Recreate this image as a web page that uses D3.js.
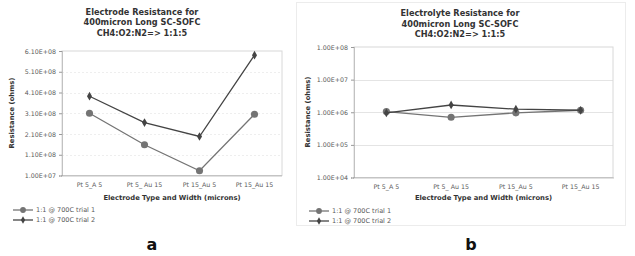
<!DOCTYPE html>
<html>
<head>
<meta charset="utf-8">
<script src="https://cdn.jsdelivr.net/npm/d3@7"></script>
<style>
  body { margin: 0; background: #fff; }
  svg { display: block; }
  text { font-family: "DejaVu Sans", Verdana, sans-serif; }
</style>
</head>
<body>
<svg id="chart" width="635" height="256"></svg>
<script>
var categories = ["Pt 5_A 5", "Pt 5_ Au 15", "Pt 15_Au 5", "Pt 15_Au 15"];
var seriesNames = ["1:1 @ 700C trial 1", "1:1 @ 700C trial 2"];

// panel a: electrode resistance (ohms)
var electrodeTrial1 = [3.1e8, 1.58e8, 3.3e7, 3.05e8];
var electrodeTrial2 = [3.92e8, 2.65e8, 1.98e8, 5.9e8];
var electrodeTicks = [1e7, 1.1e8, 2.1e8, 3.1e8, 4.1e8, 5.1e8, 6.1e8];
var electrodeTickLabels = ["1.00E+07", "1.10E+08", "2.10E+08", "3.10E+08", "4.10E+08", "5.10E+08", "6.10E+08"];

// panel b: electrolyte resistance (ohms)
var electrolyteTrial1 = [1.05e6, 7.0e5, 9.6e5, 1.15e6];
var electrolyteTrial2 = [9.5e5, 1.67e6, 1.24e6, 1.15e6];
var electrolyteTicks = [1e4, 1e5, 1e6, 1e7, 1e8];
var electrolyteTickLabels = ["1.00E+04", "1.00E+05", "1.00E+06", "1.00E+07", "1.00E+08"];

var svg = d3.select("#chart");

// faint frame around panel b
svg.append("rect")
    .attr("x", 296.5).attr("y", 2.5).attr("width", 329).attr("height", 223)
    .attr("fill", "none").attr("stroke", "#ececec");

function drawPanel(opt) {
    var g = svg.append("g");
    var x = d3.scaleBand().domain(categories).range([opt.left, opt.right]);
    var y = opt.y;

    // title
    opt.title.forEach(function(line, i) {
        g.append("text")
            .attr("x", opt.titleX).attr("y", opt.titleY + i * 10.5)
            .attr("text-anchor", "middle")
            .attr("font-size", 8.2).attr("font-weight", "bold").attr("fill", "#333")
            .text(line);
    });

    // grid
    g.selectAll(".grid").data(opt.ticks.slice(1, -1)).enter().append("line")
        .attr("x1", opt.left).attr("x2", opt.right)
        .attr("y1", function(d) { return Math.round(y(d)) + 0.5; })
        .attr("y2", function(d) { return Math.round(y(d)) + 0.5; })
        .attr("stroke", opt.gridColor).attr("stroke-width", 1)
        .attr("stroke-dasharray", opt.gridDash);

    // plot frame
    g.append("rect")
        .attr("x", opt.left).attr("y", y.range()[1])
        .attr("width", opt.right - opt.left).attr("height", y.range()[0] - y.range()[1])
        .attr("fill", "none").attr("stroke", "#d8d8d8");

    // axes
    var yAxis = d3.axisLeft(y).tickValues(opt.ticks)
        .tickFormat(function(d, i) { return opt.tickLabels[i]; })
        .tickSize(3).tickPadding(3);
    var ya = g.append("g").attr("transform", "translate(" + opt.left + ",0)").call(yAxis);
    ya.select(".domain").attr("stroke", "#999").attr("stroke-dasharray", "1,1");
    ya.selectAll(".tick line").attr("stroke", "#999");
    ya.selectAll("text").attr("font-size", 6.3).attr("fill", "#5a5a5a")
        .attr("font-family", "DejaVu Sans, sans-serif");

    var xAxis = d3.axisBottom(x).tickSize(0).tickPadding(7);
    var xa = g.append("g").attr("transform", "translate(0," + y.range()[0] + ")").call(xAxis);
    xa.select(".domain").attr("stroke", "#888").attr("stroke-dasharray", "1,1");
    xa.selectAll("text").attr("font-size", 6.3).attr("fill", "#5a5a5a")
        .attr("font-family", "DejaVu Sans, sans-serif");

    // axis titles
    g.append("text")
        .attr("x", (opt.left + opt.right) / 2).attr("y", opt.xTitleY)
        .attr("text-anchor", "middle").attr("font-size", 6.8).attr("font-weight", "bold").attr("fill", "#333")
        .text("Electrode Type and Width (microns)");
    g.append("text")
        .attr("transform", "translate(" + opt.yTitleX + "," + opt.yTitleCY + ") rotate(-90)")
        .attr("text-anchor", "middle").attr("font-size", 6.8).attr("font-weight", "bold").attr("fill", "#333")
        .text("Resistance (ohms)");

    // series
    var line = d3.line()
        .x(function(d, i) { return x(categories[i]) + x.bandwidth() / 2; })
        .y(function(d) { return y(d); });
    var series = [
        { values: opt.s1, color: "#747474", marker: "circle" },
        { values: opt.s2, color: "#444444", marker: "diamond" }
    ];
    series.forEach(function(s) {
        g.append("path").datum(s.values)
            .attr("d", line).attr("fill", "none")
            .attr("stroke", s.color).attr("stroke-width", 1.3);
        var sym = d3.symbol()
            .type(s.marker === "circle" ? d3.symbolCircle : d3.symbolDiamond)
            .size(s.marker === "circle" ? 40 : 22);
        g.selectAll(null).data(s.values).enter().append("path")
            .attr("d", sym)
            .attr("transform", function(d, i) {
                return "translate(" + (x(categories[i]) + x.bandwidth() / 2) + "," + y(d) + ")";
            })
            .attr("fill", s.color);
    });

    // legend
    series.forEach(function(s, i) {
        var ly = opt.legendY + i * 10;
        g.append("line")
            .attr("x1", opt.legendX).attr("x2", opt.legendX + 20)
            .attr("y1", ly).attr("y2", ly)
            .attr("stroke", s.color).attr("stroke-width", 1.3);
        g.append("path")
            .attr("d", d3.symbol()
                .type(s.marker === "circle" ? d3.symbolCircle : d3.symbolDiamond)
                .size(s.marker === "circle" ? 26 : 16))
            .attr("transform", "translate(" + (opt.legendX + 10) + "," + ly + ")")
            .attr("fill", s.color);
        g.append("text")
            .attr("x", opt.legendX + 23).attr("y", ly + 2.3)
            .attr("font-size", 6.5).attr("fill", "#5a5a5a")
            .text(seriesNames[i]);
    });

    // panel letter
    g.append("text")
        .attr("x", opt.letterX).attr("y", 250)
        .attr("text-anchor", "middle")
        .attr("font-family", "Liberation Serif, serif")
        .attr("font-size", 16).attr("font-weight", "bold").attr("fill", "#111")
        .text(opt.letter);
}

drawPanel({
    left: 62, right: 282,
    y: d3.scaleLinear().domain([1e7, 6.1e8]).range([175.5, 51]),
    ticks: electrodeTicks, tickLabels: electrodeTickLabels,
    gridColor: "#eeeeee", gridDash: "2,2",
    s1: electrodeTrial1, s2: electrodeTrial2,
    title: ["Electrode Resistance for", "400micron Long SC-SOFC", "CH4:O2:N2=> 1:1:5"],
    titleX: 142, titleY: 14.5,
    xTitleY: 200, yTitleX: 14, yTitleCY: 113,
    legendX: 13, legendY: 210,
    letter: "a", letterX: 152
});

drawPanel({
    left: 354, right: 613,
    y: d3.scaleLog().domain([1e4, 1e8]).range([177.5, 47]),
    ticks: electrolyteTicks, tickLabels: electrolyteTickLabels,
    gridColor: "#e4e4e4", gridDash: null,
    s1: electrolyteTrial1, s2: electrolyteTrial2,
    title: ["Electrolyte Resistance for", "400micron Long SC-SOFC", "CH4:O2:N2=> 1:1:5"],
    titleX: 460, titleY: 16,
    xTitleY: 200, yTitleX: 310, yTitleCY: 112,
    legendX: 309, legendY: 211,
    letter: "b", letterX: 471
});
</script>
</body>
</html>
